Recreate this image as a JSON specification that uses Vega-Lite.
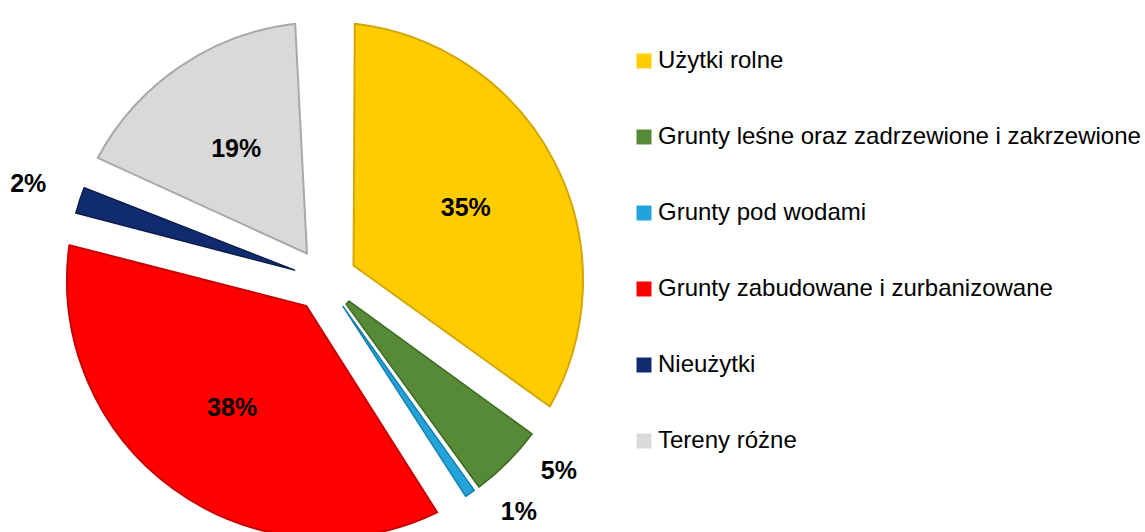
{
  "$schema": "https://vega.github.io/schema/vega-lite/v6.json",
  "width": 650,
  "height": 504,
  "autosize": {"type": "none"},
  "padding": {"left": 0, "top": 28, "right": 495, "bottom": 0},
  "background": "white",
  "data": {
    "values": [
      {"kat": "Użytki rolne", "v": 35, "lab": "35%", "o": 1},
      {"kat": "Grunty leśne oraz zadrzewione i zakrzewione", "v": 5, "lab": "5%", "o": 2},
      {"kat": "Grunty pod wodami", "v": 1, "lab": "1%", "o": 3},
      {"kat": "Grunty zabudowane i zurbanizowane", "v": 38, "lab": "38%", "o": 4},
      {"kat": "Nieużytki", "v": 2, "lab": "2%", "o": 5},
      {"kat": "Tereny różne", "v": 19, "lab": "19%", "o": 6}
    ]
  },
  "encoding": {
    "theta": {"field": "v", "type": "quantitative", "stack": true},
    "order": {"field": "o", "type": "quantitative"}
  },
  "layer": [
    {
      "mark": {"type": "arc", "radius": 258, "radius2": 32, "padAngle": 0.23, "strokeWidth": 2, "strokeJoin": "round"},
      "encoding": {
        "color": {
          "field": "kat", "type": "nominal",
          "scale": {
            "domain": ["Użytki rolne", "Grunty leśne oraz zadrzewione i zakrzewione", "Grunty pod wodami", "Grunty zabudowane i zurbanizowane", "Nieużytki", "Tereny różne"],
            "range": ["#FFCC00", "#568A36", "#22A3DA", "#FF0000", "#112C6E", "#D9D9D9"]
          },
          "legend": {
            "orient": "none", "legendX": 632, "legendY": 21, "title": null,
            "symbolType": "square", "symbolSize": 225, "symbolStrokeWidth": 0,
            "labelFont": "Liberation Sans", "labelFontSize": 24, "labelColor": "#000000",
            "labelOffset": 2, "labelLimit": 700, "rowPadding": 52
          }
        },
        "stroke": {
          "field": "kat", "type": "nominal",
          "scale": {
            "domain": ["Użytki rolne", "Grunty leśne oraz zadrzewione i zakrzewione", "Grunty pod wodami", "Grunty zabudowane i zurbanizowane", "Nieużytki", "Tereny różne"],
            "range": ["#D4A600", "#3E6A25", "#1680B0", "#C80000", "#0A1C4C", "#A8A8A8"]
          },
          "legend": null
        },
        "opacity": {"condition": {"test": "datum.v < 10", "value": 0}, "value": 1}
      }
    },
    {
      "mark": {"type": "arc", "radius": 258, "radius2": 32, "padAngle": 0.022, "strokeWidth": 1.5, "strokeJoin": "round"},
      "encoding": {
        "color": {"field": "kat", "type": "nominal"},
        "stroke": {"field": "kat", "type": "nominal", "legend": null},
        "opacity": {"condition": {"test": "datum.v < 10", "value": 1}, "value": 0}
      }
    },
    {
      "mark": {"type": "text", "radius": 158, "font": "Liberation Sans", "fontWeight": "bold", "fontSize": 25, "color": "#000000", "align": "center", "baseline": "middle"},
      "encoding": {
        "text": {"condition": {"test": "datum.v >= 10", "field": "lab"}, "value": ""}
      }
    },
    {
      "mark": {"type": "text", "radius": 302, "thetaOffset": -0.1, "font": "Liberation Sans", "fontWeight": "bold", "fontSize": 25, "color": "#000000", "align": "center", "baseline": "middle"},
      "encoding": {
        "text": {"condition": {"test": "datum.v < 2 || datum.v == 5", "field": "lab"}, "value": ""}
      }
    },
    {
      "mark": {"type": "text", "radius": 312, "font": "Liberation Sans", "fontWeight": "bold", "fontSize": 25, "color": "#000000", "align": "center", "baseline": "middle"},
      "encoding": {
        "text": {"condition": {"test": "datum.v == 2", "field": "lab"}, "value": ""}
      }
    }
  ],
  "config": {"view": {"stroke": null}}
}
